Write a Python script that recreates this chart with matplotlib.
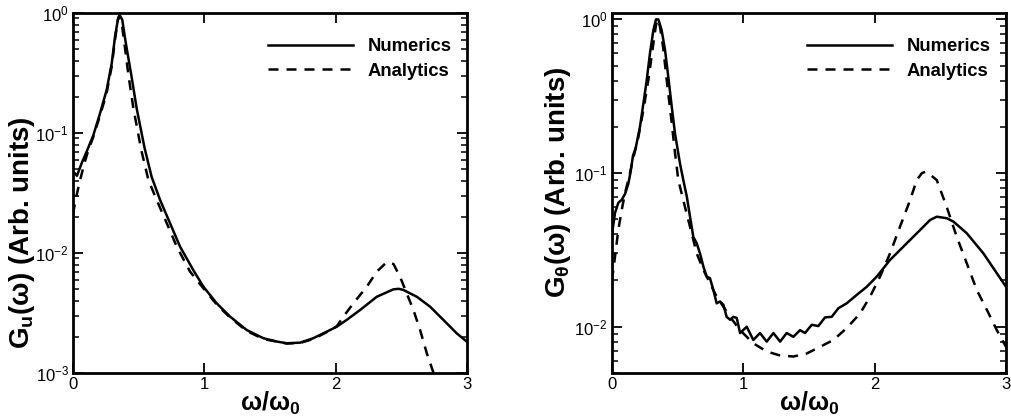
import matplotlib
matplotlib.use("Agg")
import matplotlib.pyplot as plt
from matplotlib.ticker import LogLocator, NullFormatter, FixedLocator

plt.rcParams['font.family'] = ['Liberation Sans', 'DejaVu Sans']
plt.rcParams['mathtext.fontset'] = 'custom'
plt.rcParams['mathtext.rm'] = 'Liberation Sans'
plt.rcParams['mathtext.bf'] = 'Liberation Sans:bold'
plt.rcParams['mathtext.it'] = 'Liberation Sans:italic'
plt.rcParams['axes.unicode_minus'] = False

# velocity spectrum G_u(w)
u_num_x = [0.0, 0.015, 0.03, 0.066, 0.104, 0.155, 0.206, 0.256, 0.295, 0.320,
           0.343, 0.355, 0.375, 0.400, 0.447, 0.485, 0.545, 0.599, 0.663, 0.739,
           0.815, 0.916, 0.993, 1.094, 1.196, 1.323, 1.449, 1.55, 1.627, 1.729,
           1.830, 1.932, 2.008, 2.084, 2.186, 2.313, 2.440, 2.480, 2.516, 2.618,
           2.719, 2.820, 2.922, 3.0]
u_num_y = [0.048, 0.046, 0.044, 0.056, 0.070, 0.096, 0.146, 0.228, 0.381, 0.635,
           0.90, 0.96, 0.88, 0.58, 0.29, 0.16, 0.075, 0.043, 0.0277, 0.0177,
           0.0113, 0.0072, 0.00524, 0.00381, 0.00295, 0.00228, 0.00195, 0.00183, 0.00177, 0.00179,
           0.00195, 0.00221, 0.00243, 0.00277, 0.00335, 0.00432, 0.00498, 0.00503, 0.00492, 0.00432,
           0.00357, 0.00277, 0.00214, 0.00182]

u_ana_x = [0.0, 0.02, 0.053, 0.085, 0.117, 0.155, 0.206, 0.256, 0.295, 0.320,
           0.340, 0.352, 0.370, 0.395, 0.421, 0.460, 0.520, 0.574, 0.637, 0.714,
           0.790, 0.891, 0.993, 1.094, 1.196, 1.323, 1.449, 1.627, 1.729, 1.830,
           1.932, 2.008, 2.059, 2.135, 2.237, 2.313, 2.389, 2.440, 2.490, 2.541,
           2.592, 2.643, 2.694, 2.744, 2.85]
u_ana_y = [0.021, 0.028, 0.040, 0.055, 0.072, 0.093, 0.14, 0.215, 0.36, 0.60,
           0.86, 0.95, 0.84, 0.52, 0.31, 0.16, 0.072, 0.0406, 0.0277, 0.0177,
           0.0113, 0.0070, 0.00508, 0.00372, 0.00290, 0.00224, 0.00192, 0.00176, 0.00178, 0.00192,
           0.00219, 0.00245, 0.00295, 0.00381, 0.00524, 0.00699, 0.0084, 0.0081, 0.00635, 0.00461,
           0.00335, 0.00228, 0.00146, 0.00101, 0.0005]

# temperature spectrum G_theta(w)
t_num_x = [0.0, 0.023, 0.048, 0.074, 0.099, 0.124, 0.140, 0.160, 0.180, 0.213,
           0.239, 0.264, 0.289, 0.315, 0.335, 0.353, 0.378, 0.404, 0.429, 0.455,
           0.480, 0.518, 0.543, 0.570, 0.594, 0.619, 0.645, 0.670, 0.696, 0.721,
           0.746, 0.772, 0.797, 0.823, 0.848, 0.873, 0.899, 0.924, 0.950, 0.975,
           1.026, 1.076, 1.127, 1.178, 1.229, 1.280, 1.330, 1.381, 1.432, 1.470,
           1.521, 1.571, 1.622, 1.673, 1.724, 1.787, 1.863, 1.940, 2.016, 2.117,
           2.244, 2.346, 2.422, 2.473, 2.549, 2.600, 2.701, 2.828, 3.0]
t_num_y = [0.040, 0.055, 0.064, 0.067, 0.073, 0.085, 0.100, 0.130, 0.145, 0.20,
           0.284, 0.40, 0.60, 0.85, 1.0, 1.0, 0.85, 0.63, 0.42, 0.27,
           0.18, 0.115, 0.09, 0.070, 0.052, 0.0385, 0.0349, 0.030, 0.0246, 0.0212,
           0.0207, 0.0173, 0.0142, 0.0146, 0.0139, 0.0116, 0.0111, 0.0116, 0.0114, 0.0091,
           0.0100, 0.0082, 0.0091, 0.0080, 0.0091, 0.0080, 0.0091, 0.0086, 0.0095, 0.0091,
           0.0103, 0.0101, 0.0115, 0.0116, 0.0132, 0.0142, 0.0161, 0.0182, 0.0212, 0.0272,
           0.0349, 0.0426, 0.0495, 0.052, 0.0508, 0.0483, 0.0406, 0.030, 0.0182]

t_ana_x = [0.0, 0.023, 0.048, 0.074, 0.099, 0.124, 0.137, 0.162, 0.20, 0.24,
           0.28, 0.31, 0.335, 0.350, 0.365, 0.39, 0.42, 0.45, 0.48, 0.505,
           0.556, 0.607, 0.645, 0.696, 0.746, 0.797, 0.848, 0.899, 0.975, 1.076,
           1.178, 1.280, 1.381, 1.483, 1.584, 1.686, 1.787, 1.889, 1.965, 2.041,
           2.117, 2.193, 2.270, 2.320, 2.36, 2.39, 2.42, 2.473, 2.549, 2.625,
           2.701, 2.778, 2.854, 2.930, 3.0]
t_ana_y = [0.020, 0.0286, 0.0426, 0.0575, 0.074, 0.090, 0.100, 0.125, 0.17, 0.26,
           0.42, 0.65, 0.92, 1.0, 0.90, 0.65, 0.38, 0.23, 0.135, 0.090,
           0.060, 0.0405, 0.030, 0.0234, 0.0192, 0.0157, 0.0135, 0.0116, 0.0095, 0.0078,
           0.0069, 0.0065, 0.0064, 0.0067, 0.0074, 0.0082, 0.0098, 0.0122, 0.0157, 0.0212,
           0.030, 0.0448, 0.0667, 0.090, 0.100, 0.102, 0.098, 0.090, 0.060, 0.0385,
           0.0259, 0.0173, 0.0129, 0.0095, 0.0074]

series_labels = ['Numerics', 'Analytics']
x_ticks = [0, 1, 2, 3]

fig = plt.figure(figsize=(10.11, 4.2), dpi=100)
ax1 = fig.add_axes([73 / 1011, 47 / 420, 394 / 1011, 360 / 420])
ax2 = fig.add_axes([612 / 1011, 47 / 420, 394 / 1011, 360 / 420])

panels = [
    (ax1, u_num_x, u_num_y, u_ana_x, u_ana_y, (1e-3, 1.0),
     r'G$_\mathbf{u}$(ω) (Arb. units)', (-0.092, 0.39)),
    (ax2, t_num_x, t_num_y, t_ana_x, t_ana_y, (5e-3, 1.1),
     r'G$_\mathbf{θ}$(ω) (Arb. units)', (-0.099, 0.53)),
]

for ax, nx, ny, axx, ay, ylim, ylab, lab_pos in panels:
    ax.plot(nx, ny, color='black', lw=1.8, solid_joinstyle='round',
            label=series_labels[0])
    ax.plot(axx, ay, color='black', lw=1.8, dashes=(4.0, 3.2),
            label=series_labels[1])
    ax.set_yscale('log')
    ax.set_xlim(0, 3)
    ax.set_ylim(*ylim)
    ax.xaxis.set_major_locator(FixedLocator(x_ticks))
    ax.yaxis.set_major_locator(LogLocator(base=10, numticks=10))
    ax.yaxis.set_minor_locator(LogLocator(base=10, subs=range(2, 10), numticks=30))
    ax.yaxis.set_minor_formatter(NullFormatter())
    ax.tick_params(which='both', direction='in', top=True, right=True,
                   labelsize=12, pad=3)
    ax.tick_params(which='major', length=7, width=1.3)
    ax.tick_params(which='minor', length=4.5, width=1.1)
    for sp in ax.spines.values():
        sp.set_linewidth(2.0)
    ax.set_xlabel(r'ω/ω$_\mathbf{0}$', fontsize=18, fontweight='bold', labelpad=-2)
    ax.set_ylabel(ylab, fontsize=20, fontweight='bold')
    ax.yaxis.set_label_coords(*lab_pos)
    ax.legend(loc='upper left', bbox_to_anchor=(0.495, 0.93), frameon=False,
              handlelength=4.6, handletextpad=0.8, labelspacing=0.42,
              borderpad=0, borderaxespad=0,
              prop={'weight': 'bold', 'size': 13.3})

fig.savefig('out.png', dpi=100)
